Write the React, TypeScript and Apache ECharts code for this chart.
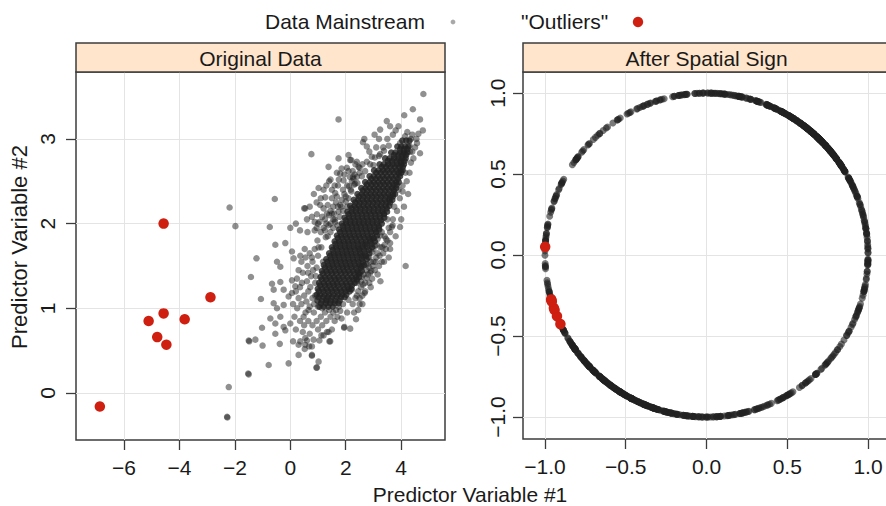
import React, { useEffect, useRef } from "react";
import * as echarts from "echarts";

// "Outliers": [Predictor Variable #1, Predictor Variable #2]
const outlierPoints: number[][] = [
  [-6.87, -0.16], [-4.57, 2.0], [-5.11, 0.85], [-4.57, 0.94],
  [-4.8, 0.66], [-4.47, 0.57], [-3.81, 0.87], [-2.88, 1.13],
];

// Dense core of the data mainstream, read row by row: [Predictor #2, Predictor #1 values]
const mainstreamCoreRows: [number, number[]][] = [
  [1.02, [1.05, 1.21, 1.37, 1.53]],
  [1.09, [0.98, 1.14, 1.3, 1.46, 1.62, 1.78]],
  [1.16, [0.95, 1.07, 1.23, 1.39, 1.55, 1.71, 1.87, 2.02]],
  [1.23, [0.99, 1.15, 1.31, 1.47, 1.63, 1.79, 1.95, 2.1, 2.2]],
  [1.3, [1.04, 1.21, 1.37, 1.53, 1.69, 1.85, 2.01, 2.17, 2.32]],
  [1.37, [1.09, 1.26, 1.42, 1.58, 1.74, 1.9, 2.06, 2.22, 2.37, 2.48]],
  [1.44, [1.14, 1.3, 1.46, 1.62, 1.78, 1.94, 2.1, 2.26, 2.42, 2.58]],
  [1.51, [1.21, 1.37, 1.53, 1.69, 1.85, 2.01, 2.17, 2.33, 2.49, 2.66]],
  [1.58, [1.3, 1.46, 1.62, 1.78, 1.94, 2.1, 2.26, 2.42, 2.58, 2.75]],
  [1.65, [1.4, 1.56, 1.72, 1.88, 2.04, 2.2, 2.36, 2.52, 2.68, 2.85]],
  [1.72, [1.5, 1.65, 1.81, 1.97, 2.13, 2.29, 2.45, 2.61, 2.77, 2.95]],
  [1.79, [1.6, 1.76, 1.92, 2.08, 2.24, 2.4, 2.56, 2.72, 2.88, 3.05]],
  [1.86, [1.68, 1.83, 1.99, 2.15, 2.31, 2.47, 2.63, 2.79, 2.95, 3.13]],
  [1.93, [1.76, 1.92, 2.08, 2.24, 2.4, 2.56, 2.72, 2.88, 3.04, 3.21]],
  [2.0, [1.86, 2.01, 2.17, 2.33, 2.49, 2.65, 2.81, 2.97, 3.13, 3.3]],
  [2.07, [1.96, 2.12, 2.28, 2.44, 2.6, 2.76, 2.92, 3.08, 3.24, 3.39]],
  [2.14, [2.06, 2.21, 2.37, 2.53, 2.69, 2.85, 3.01, 3.17, 3.33, 3.49]],
  [2.21, [2.16, 2.32, 2.48, 2.64, 2.8, 2.96, 3.12, 3.28, 3.44, 3.57]],
  [2.28, [2.29, 2.45, 2.61, 2.77, 2.93, 3.09, 3.25, 3.41, 3.57, 3.68]],
  [2.35, [2.42, 2.58, 2.74, 2.9, 3.06, 3.22, 3.38, 3.54, 3.7, 3.78]],
  [2.42, [2.56, 2.71, 2.87, 3.03, 3.19, 3.35, 3.51, 3.67, 3.82]],
  [2.49, [2.7, 2.86, 3.02, 3.18, 3.34, 3.5, 3.66, 3.82, 3.91]],
  [2.56, [2.86, 3.01, 3.17, 3.33, 3.49, 3.65, 3.81, 3.96]],
  [2.63, [3.02, 3.18, 3.34, 3.5, 3.66, 3.82, 3.97, 4.05]],
  [2.7, [3.22, 3.37, 3.53, 3.69, 3.85, 4.0, 4.1]],
  [2.77, [3.42, 3.58, 3.74, 3.9, 4.04, 4.16]],
  [2.84, [3.64, 3.79, 3.95, 4.1, 4.22]],
  [2.91, [3.86, 4.0, 4.14, 4.26]],
  [2.98, [4.04, 4.18, 4.3]],
  [1.06, [1.1, 1.28, 1.44, 1.6, 1.74]],
  [1.13, [1.02, 1.19, 1.35, 1.5, 1.67, 1.83, 1.96]],
  [1.2, [1.03, 1.2, 1.36, 1.52, 1.68, 1.84, 2.0, 2.14]],
  [1.27, [1.08, 1.25, 1.41, 1.57, 1.72, 1.9, 2.06, 2.22]],
  [1.34, [1.13, 1.29, 1.46, 1.62, 1.77, 1.95, 2.12, 2.28, 2.4]],
  [1.41, [1.17, 1.34, 1.5, 1.66, 1.83, 1.99, 2.15, 2.31, 2.47]],
  [1.48, [1.25, 1.41, 1.57, 1.74, 1.9, 2.05, 2.21, 2.38, 2.55]],
  [1.55, [1.34, 1.5, 1.66, 1.82, 1.98, 2.14, 2.3, 2.46, 2.62]],
  [1.62, [1.44, 1.6, 1.76, 1.92, 2.08, 2.24, 2.41, 2.57, 2.73]],
  [1.69, [1.53, 1.7, 1.86, 2.02, 2.17, 2.33, 2.5, 2.66, 2.83]],
  [1.76, [1.63, 1.8, 1.96, 2.12, 2.28, 2.44, 2.6, 2.76, 2.93]],
  [1.83, [1.72, 1.88, 2.04, 2.2, 2.36, 2.52, 2.68, 2.84, 3.01]],
  [1.9, [1.8, 1.96, 2.12, 2.28, 2.44, 2.6, 2.76, 2.92, 3.09]],
  [1.97, [1.9, 2.06, 2.22, 2.38, 2.54, 2.7, 2.86, 3.02, 3.19]],
  [2.04, [2.0, 2.16, 2.32, 2.48, 2.64, 2.8, 2.96, 3.12, 3.28]],
  [2.11, [2.1, 2.26, 2.42, 2.58, 2.74, 2.9, 3.06, 3.22, 3.38]],
  [2.18, [2.21, 2.37, 2.53, 2.69, 2.85, 3.01, 3.17, 3.33, 3.48]],
  [2.25, [2.34, 2.5, 2.66, 2.82, 2.98, 3.14, 3.3, 3.46, 3.6]],
  [2.32, [2.47, 2.63, 2.79, 2.95, 3.11, 3.27, 3.43, 3.59, 3.7]],
  [2.39, [2.61, 2.77, 2.93, 3.09, 3.25, 3.41, 3.57, 3.73]],
  [2.46, [2.76, 2.92, 3.08, 3.24, 3.4, 3.56, 3.72, 3.84]],
  [2.53, [2.92, 3.08, 3.24, 3.4, 3.56, 3.72, 3.88]],
  [2.6, [3.1, 3.26, 3.42, 3.58, 3.74, 3.9, 4.0]],
  [2.67, [3.3, 3.46, 3.62, 3.78, 3.93, 4.06]],
  [2.74, [3.52, 3.68, 3.84, 3.98, 4.12]],
  [2.81, [3.74, 3.9, 4.04, 4.18]],
  [2.88, [3.96, 4.1, 4.22]],
];

// Scattered points of the data mainstream around the core: [Predictor #1, Predictor #2]
const mainstreamScatter: number[][] = [
  [4.8, 3.53], [4.42, 3.35], [4.11, 3.28], [4.68, 3.23], [1.74, 3.23], [3.48, 3.21], [3.24, 3.11],
  [3.04, 3.05], [2.67, 3.0], [2.62, 2.96], [4.78, 3.1], [4.62, 3.06], [4.14, 3.03], [4.22, 3.08],
  [2.76, 2.91], [0.76, 2.82], [1.74, 2.77], [2.1, 2.81], [2.16, 2.75], [2.94, 2.79], [3.24, 2.82],
  [1.38, 2.67], [1.8, 2.59], [2.04, 2.66], [2.4, 2.73], [2.46, 2.67], [2.76, 2.73], [3.0, 2.69],
  [1.92, 2.51], [2.28, 2.53], [2.34, 2.47], [1.5, 2.4], [1.26, 2.31], [1.08, 2.22], [0.54, 2.18],
  [1.68, 2.32], [1.8, 2.22], [0.96, 2.11], [1.32, 2.12], [3.96, 2.95], [4.32, 2.85], [4.57, 2.95],
  [4.68, 2.83], [4.44, 2.77],
  [-0.56, 2.29], [-2.19, 2.19], [-1.98, 1.97], [-0.74, 1.96], [0.0, 1.95], [0.5, 2.18], [0.78, 2.08],
  [-1.22, 1.59], [-0.54, 1.75], [-0.18, 1.77], [0.06, 1.67], [0.12, 1.59], [-0.48, 1.55], [-0.36, 1.49],
  [-1.42, 1.37], [-0.66, 1.29], [-0.6, 1.22], [-0.36, 1.31], [-0.24, 1.22], [0.06, 1.33], [0.18, 1.26],
  [-0.06, 1.14], [-1.06, 1.11], [-0.6, 1.06], [-0.48, 1.0], [-0.24, 1.04], [-0.36, 0.9], [-0.72, 0.88],
  [-0.54, 0.82], [-1.02, 0.77], [-0.24, 0.78], [-0.18, 0.74], [0.0, 0.82], [-1.5, 0.62], [-1.48, 0.61],
  [-1.26, 0.63], [-1.0, 0.56], [-0.54, 0.7], [-0.38, 0.58], [0.1, 0.61], [0.3, 0.57], [0.54, 0.65],
  [0.78, 0.55], [0.3, 0.45], [0.78, 0.45], [-0.06, 0.35], [-0.78, 0.33], [1.02, 0.37], [0.96, 0.3],
  [-1.52, 0.23], [-1.5, 0.22], [-2.22, 0.07], [-2.28, -0.28], [-2.27, -0.29],
  [4.16, 1.5], [3.6, 1.77], [3.96, 1.96], [3.69, 1.98], [3.66, 1.96],
  [2.37, 0.87], [2.16, 0.76], [1.95, 0.78], [1.94, 0.77], [1.65, 0.98], [1.8, 0.97], [2.88, 1.42],
  [2.58, 1.37], [2.4, 1.3], [2.22, 1.22], [2.1, 1.1], [1.38, 0.72], [1.2, 0.68], [1.44, 0.61],
  [1.12, 0.68], [1.32, 0.72], [1.41, 0.61], [0.84, 0.63], [0.36, 0.61], [0.94, 0.3], [0.78, 0.44],
  [0.52, 0.52], [0.54, 0.57], [3.12, 1.75], [3.1, 1.6], [3.3, 1.9], [3.5, 2.05], [3.75, 2.2],
  [3.9, 2.4], [4.05, 2.45], [4.15, 2.6], [2.9, 1.55], [2.75, 1.45], [3.0, 1.7],
  [0.25, 1.0], [0.4, 1.05], [0.55, 0.95], [0.7, 1.02], [0.85, 0.95], [0.5, 1.15], [0.65, 1.2],
  [0.8, 1.12], [0.35, 1.25], [0.6, 1.32], [0.75, 1.38], [0.9, 1.3], [0.45, 1.42], [0.62, 1.5],
  [0.8, 1.55], [0.95, 1.48], [0.7, 1.65], [0.88, 1.7], [1.0, 1.62], [0.55, 1.6], [0.4, 1.55],
  [0.3, 1.45], [0.2, 1.2], [0.1, 1.05], [0.15, 0.9], [0.35, 0.85], [0.5, 0.8], [0.65, 0.85],
  [0.8, 0.8], [0.95, 0.85], [1.1, 0.9], [1.25, 0.95], [1.0, 0.75], [0.7, 0.7], [0.45, 0.72],
  [0.2, 0.75], [0.6, 0.62], [1.15, 0.8], [1.3, 0.85], [1.45, 0.9], [1.6, 0.85], [1.5, 0.75],
  [1.7, 0.9], [0.9, 1.15], [1.0, 1.02], [0.82, 1.45], [0.98, 1.8], [1.1, 1.9], [1.2, 1.95],
  [1.05, 2.02], [1.25, 2.05], [1.4, 2.1], [1.45, 2.0], [1.55, 2.2], [1.6, 2.05], [1.65, 2.25],
  [1.9, 2.4], [2.05, 2.45], [2.15, 2.55], [2.25, 2.62], [2.5, 2.6], [2.6, 2.7], [2.85, 2.85],
  [3.1, 2.9], [3.2, 3.0], [3.35, 2.9], [3.5, 3.0], [3.7, 3.05], [3.8, 3.1], [3.6, 3.15], [3.9, 3.15],
  [2.4, 1.15], [2.55, 1.25], [2.7, 1.3], [2.85, 1.48], [3.0, 1.55], [3.15, 1.65], [3.25, 1.72],
  [3.4, 1.85], [3.45, 1.7], [3.55, 1.95], [3.7, 2.05], [3.85, 2.15], [3.95, 2.3], [4.05, 2.38],
  [4.2, 2.5], [4.3, 2.6], [4.35, 2.72], [4.4, 2.85], [4.5, 2.9], [4.55, 3.0], [4.35, 3.0],
  [2.25, 1.05], [2.05, 0.95], [2.3, 0.95], [1.85, 0.88], [2.6, 1.15], [2.95, 1.35], [3.3, 1.55],
  [3.55, 1.6], [3.8, 1.85], [4.0, 2.05], [4.1, 2.2], [4.25, 2.35],
  [0.42, 1.3], [0.58, 1.08], [0.72, 1.25], [0.86, 1.05], [0.3, 1.12], [0.48, 0.9], [0.66, 0.98],
  [0.92, 1.38], [0.64, 1.42], [0.78, 1.6], [0.52, 1.7], [0.36, 1.62], [0.24, 1.35], [0.06, 1.18],
  [1.12, 1.72], [1.28, 1.84], [0.88, 1.92], [1.02, 1.72], [1.18, 1.55], [1.38, 1.98], [1.5, 2.12],
  [1.74, 2.14], [1.62, 2.36], [1.86, 2.28], [2.0, 2.32], [2.18, 2.4], [2.32, 2.58], [2.42, 2.48],
  [2.58, 2.56], [2.7, 2.62], [2.88, 2.7], [3.05, 2.78], [3.2, 2.8], [3.38, 2.86], [3.55, 2.92],
  [1.3, 1.1], [1.15, 1.0], [1.4, 0.98], [1.55, 0.95], [1.75, 1.02], [1.9, 1.05], [2.45, 1.42],
  [2.6, 1.5], [2.8, 1.6], [3.0, 1.82], [3.2, 1.95], [3.38, 2.12], [3.6, 2.3], [3.72, 2.42],
  [3.92, 2.58], [4.0, 2.72], [4.12, 2.82], [4.3, 2.92], [4.4, 3.05], [0.68, 0.55], [1.05, 0.62],
  [1.7, 1.98], [1.62, 2.02], [1.78, 2.08], [1.9, 2.15], [1.84, 2.2], [2.0, 2.26], [2.1, 2.3],
  [1.95, 2.35], [2.2, 2.38], [2.12, 2.44], [2.3, 2.46], [2.26, 2.55], [2.4, 2.55], [2.5, 2.66],
  [2.35, 2.7], [1.55, 1.95], [1.45, 1.9], [1.35, 1.85], [1.5, 2.3], [1.72, 2.45], [1.95, 2.58],
  [2.1, 2.62], [2.2, 2.75], [1.4, 2.5], [1.2, 2.4], [1.58, 2.12], [2.05, 2.2], [2.22, 2.5],
  [2.35, 1.12], [2.45, 1.2], [2.55, 1.32], [2.65, 1.4], [2.72, 1.52], [2.85, 1.6], [2.95, 1.66],
  [3.05, 1.74], [3.15, 1.82], [3.25, 1.86], [2.5, 1.05], [2.7, 1.2], [2.85, 1.3], [3.05, 1.45],
  [3.2, 1.5], [3.35, 1.65], [3.5, 1.8], [3.4, 1.75], [2.62, 1.62], [2.9, 1.82], [2.55, 1.5],
  [2.48, 1.7], [2.7, 1.75], [3.1, 1.9], [3.6, 1.9], [2.8, 1.4], [2.98, 1.5], [2.42, 1.32],
  [1.45, 2.15], [1.35, 2.22], [1.2, 2.18], [1.1, 2.3], [0.95, 2.25], [0.85, 2.35], [0.7, 2.2],
  [1.6, 2.45], [1.45, 2.52], [1.3, 2.45], [1.75, 2.52], [1.68, 2.6], [1.85, 2.65], [1.02, 2.42],
  [0.6, 2.05], [0.88, 2.02], [1.15, 2.08], [1.3, 2.0], [1.55, 2.05], [1.72, 2.2],
  [2.62, 1.28], [2.75, 1.36], [2.92, 1.44], [3.08, 1.55], [3.22, 1.62], [3.32, 1.72], [3.45, 1.82],
  [2.5, 1.12], [2.68, 1.18], [2.9, 1.25], [3.15, 1.4], [3.38, 1.55], [3.6, 1.7], [2.45, 0.98],
  [2.6, 1.05], [3.25, 1.32], [2.78, 1.52], [2.52, 1.42],
  [0.35, 1.92], [0.62, 1.9], [0.95, 1.95], [1.25, 1.92], [1.0, 2.0], [0.2, 2.0],
];

const xTicksLeft = [-6, -4, -2, 0, 2, 4];
const yTicksLeft = [0, 1, 2, 3];
const ticksRight = [-1, -0.5, 0, 0.5, 1];

const panelTitles = ["Original Data", "After Spatial Sign"];
const legendLabels = ["Data Mainstream", "\"Outliers\""];
const axisTitles = ["Predictor Variable #1", "Predictor Variable #2"];

const FONT = "Liberation Sans, Arial, Helvetica, sans-serif";
const INK = "#1a1a1a";
const BOX = "#3c3c3c";
const GRIDC = "#e4e4e4";
const RED = "#cf1f10";
const DOT = "#222222";

const coreFlat: number[][] = mainstreamCoreRows.flatMap(([y, xs]) => xs.map((x) => [x, y]));
const mainstreamAll = [...coreFlat, ...mainstreamScatter];

// Spatial sign: center and scale with all data, then project on unit circle
function spatialSign(points: number[][], ref: number[][]) {
  const n = ref.length;
  const mx = ref.reduce((s, p) => s + p[0], 0) / n;
  const my = ref.reduce((s, p) => s + p[1], 0) / n;
  const sx = Math.sqrt(ref.reduce((s, p) => s + (p[0] - mx) ** 2, 0) / (n - 1));
  const sy = Math.sqrt(ref.reduce((s, p) => s + (p[1] - my) ** 2, 0) / (n - 1));
  return points.map((p) => {
    const u = (p[0] - mx) / sx;
    const v = (p[1] - my) / sy;
    const r = Math.hypot(u, v);
    return [u / r, v / r];
  });
}

const minus = (s: string) => s.replace("-", "\u2212");

export default function App() {
  const ref = useRef<HTMLDivElement>(null);
  useEffect(() => {
    if (!ref.current) return;
    const chart = echarts.init(ref.current, undefined, { renderer: "svg" });
    const allPts = [...mainstreamAll, ...outlierPoints];
    const ssMain = spatialSign(mainstreamAll, allPts);
    const ssOut = spatialSign(outlierPoints, allPts);

    const mkX = (gridIndex: number, min: number, max: number, ticks: number[], fmt: (v: number) => string) => ({
      type: "value", gridIndex, min, max,
      axisLine: { show: false, onZero: false },
      axisTick: { show: true, length: 10, customValues: ticks, lineStyle: { color: BOX, width: 1.3 } },
      axisLabel: { customValues: ticks, formatter: fmt, margin: 17, fontSize: 21, color: INK, fontFamily: FONT },
      splitLine: { show: true, lineStyle: { color: GRIDC, width: 1 } },
    });
    const mkY = (gridIndex: number, min: number, max: number, ticks: number[], fmt: (v: number) => string, margin: number) => ({
      type: "value", gridIndex, min, max,
      axisLine: { show: false, onZero: false },
      axisTick: { show: true, length: 10, customValues: ticks, lineStyle: { color: BOX, width: 1.3 } },
      axisLabel: { customValues: ticks, formatter: fmt, margin, rotate: 90, fontSize: 21, color: INK, fontFamily: FONT },
      splitLine: { show: true, lineStyle: { color: GRIDC, width: 1 } },
    });
    const fmtInt = (v: number) => minus(String(v));
    const fmt1 = (v: number) => minus(v.toFixed(1));

    const strip = (x: number, w: number, label: string) => [
      { type: "rect", shape: { x, y: 43, width: w, height: 29 }, style: { fill: "#ffe5cc", stroke: BOX, lineWidth: 1.5 }, z: 10 },
      { type: "text", x: x + w / 2, y: 58, style: { text: label, fill: INK, font: `21px ${FONT}`, textAlign: "center", textVerticalAlign: "middle" }, z: 11 },
    ];

    chart.setOption({
      animation: false,
      backgroundColor: "#ffffff",
      grid: [
        { left: 76, top: 72, width: 369, height: 368, show: true, borderColor: BOX, borderWidth: 1.5, backgroundColor: "transparent", outerBoundsMode: "none", containLabel: false },
        { left: 523, top: 72, width: 367, height: 367, show: true, borderColor: BOX, borderWidth: 1.5, backgroundColor: "transparent", outerBoundsMode: "none", containLabel: false },
      ],
      xAxis: [
        mkX(0, -7.73, 5.58, xTicksLeft, fmtInt),
        mkX(1, -1.136, 1.136, ticksRight, fmt1),
      ],
      yAxis: [
        mkY(0, -0.555, 3.79, yTicksLeft, fmtInt, 18),
        mkY(1, -1.136, 1.13, ticksRight, fmt1, 15),
      ],
      series: [
        { type: "scatter", xAxisIndex: 0, yAxisIndex: 0, data: mainstreamScatter, symbolSize: 6.5, itemStyle: { color: DOT, opacity: 0.5 }, silent: true },
        { type: "scatter", xAxisIndex: 0, yAxisIndex: 0, data: coreFlat, symbolSize: 6.5, itemStyle: { color: DOT, opacity: 0.8 }, silent: true },
        { type: "scatter", xAxisIndex: 0, yAxisIndex: 0, data: outlierPoints, symbolSize: 10.5, itemStyle: { color: RED, opacity: 1 }, silent: true },
        { type: "scatter", xAxisIndex: 1, yAxisIndex: 1, data: ssMain, symbolSize: 7, itemStyle: { color: DOT, opacity: 0.6 }, silent: true },
        { type: "scatter", xAxisIndex: 1, yAxisIndex: 1, data: ssOut, symbolSize: 10.5, itemStyle: { color: RED, opacity: 1 }, silent: true },
      ],
      graphic: [
        ...strip(76, 369, panelTitles[0]),
        ...strip(523, 367, panelTitles[1]),
        { type: "text", x: 265, y: 21, style: { text: legendLabels[0], fill: INK, font: `21px ${FONT}`, textAlign: "left", textVerticalAlign: "middle" } },
        { type: "circle", shape: { cx: 453, cy: 22, r: 2.4 }, style: { fill: "#a8a8a8" } },
        { type: "text", x: 521, y: 21, style: { text: legendLabels[1], fill: INK, font: `21px ${FONT}`, textAlign: "left", textVerticalAlign: "middle" } },
        { type: "circle", shape: { cx: 638, cy: 22, r: 5.2 }, style: { fill: RED } },
        { type: "text", x: 470, y: 494, style: { text: axisTitles[0], fill: INK, font: `21px ${FONT}`, textAlign: "center", textVerticalAlign: "middle" } },
        { type: "text", x: 19, y: 247, rotation: Math.PI / 2, style: { text: axisTitles[1], fill: INK, font: `22px ${FONT}`, textAlign: "center", textVerticalAlign: "middle" } },
      ],
    });
    return () => chart.dispose();
  }, []);
  return <div ref={ref} style={{ position: "fixed", left: 0, top: 0, width: 886, height: 506 }} />;
}
